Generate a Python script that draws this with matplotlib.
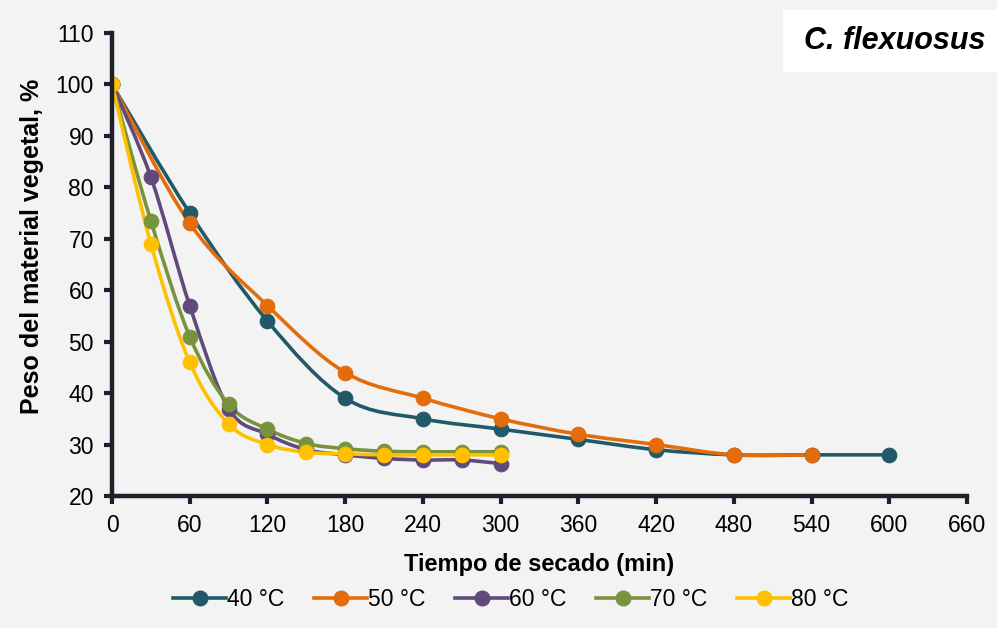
import numpy as np
import matplotlib.pyplot as plt
from matplotlib.path import Path
from matplotlib.patches import PathPatch, Rectangle
from matplotlib.lines import Line2D

plt.rcParams['font.family'] = ['Liberation Sans', 'DejaVu Sans']

# --- DATA ---
t_40 = [0, 60, 120, 180, 240, 300, 360, 420, 480, 540, 600]
w_40 = [100, 75, 54, 39, 35, 33, 31, 29, 28, 28, 28]
t_50 = [0, 60, 120, 180, 240, 300, 360, 420, 480, 540]
w_50 = [100, 73, 57, 44, 39, 35, 32, 30, 28, 28]
t_60 = [0, 30, 60, 90, 120, 150, 180, 210, 240, 270, 300]
w_60 = [100, 82, 57, 37, 32, 29, 28, 27.3, 27, 27, 26.3]
t_70 = [0, 30, 60, 90, 120, 150, 180, 210, 240, 270, 300]
w_70 = [100, 73.5, 51, 37.8, 33, 30.2, 29.2, 28.7, 28.6, 28.6, 28.6]
t_80 = [0, 30, 60, 90, 120, 150, 180, 210, 240, 270, 300]
w_80 = [100, 69, 46, 34, 30, 28.5, 28.2, 28, 28, 28, 28]

series = [
    ('40 °C', t_40, w_40, '#215968'),
    ('50 °C', t_50, w_50, '#e46c0a'),
    ('60 °C', t_60, w_60, '#604a7b'),
    ('70 °C', t_70, w_70, '#77933c'),
    ('80 °C', t_80, w_80, '#ffc000'),
]

x_ticks = list(range(0, 661, 60))
y_ticks = list(range(20, 111, 10))

BG = '#f3f3f3'
AX = '#1f1f2b'


def smooth_path(x, y):
    # Excel-like smoothed line: cubic Bezier segments through the points
    p = np.column_stack([x, y]).astype(float)
    n = len(p)
    verts = [p[0]]
    codes = [Path.MOVETO]
    for i in range(n - 1):
        p0 = p[i - 1] if i > 0 else p[i]
        p3 = p[i + 2] if i + 2 < n else p[i + 1]
        c1 = p[i] + (p[i + 1] - p0) / 6.0
        c2 = p[i + 1] - (p3 - p[i]) / 6.0
        verts += [c1, c2, p[i + 1]]
        codes += [Path.CURVE4] * 3
    return Path(verts, codes)


fig = plt.figure(figsize=(9.97, 6.28), dpi=100, facecolor=BG)
ax = fig.add_axes([112 / 997, 1 - 496 / 628, (967 - 112) / 997, (496 - 33) / 628])
ax.set_facecolor(BG)

handles = []
for label, t, w, c in series:
    ax.add_patch(PathPatch(smooth_path(t, w), facecolor='none', edgecolor=c,
                           lw=2.6, capstyle='round', joinstyle='round', zorder=2))
    ax.plot(t, w, ls='none', marker='o', ms=10.5, mfc=c, mec=c, mew=0.8, zorder=3)
    handles.append(Line2D([], [], color=c, lw=2.6, marker='o', ms=10.5, mfc=c, mec=c))

ax.set_xlim(0, 660)
ax.set_ylim(20, 110)
ax.set_xticks(x_ticks)
ax.set_yticks(y_ticks)
ax.tick_params(labelsize=16.5, colors='black', length=6, width=3, color=AX, pad=7)

for s in ['top', 'right']:
    ax.spines[s].set_visible(False)
for s in ['left', 'bottom']:
    ax.spines[s].set_color(AX)
    ax.spines[s].set_linewidth(3.2)
ax.spines['left'].set_zorder(4)
ax.spines['bottom'].set_zorder(4)

ax.set_xlabel('Tiempo de secado (min)', fontsize=17, fontweight='bold')
ax.xaxis.set_label_coords(0.5, -(565 - 496) / 463)
ax.set_ylabel('Peso del material vegetal, %', fontsize=18, fontweight='bold')
ax.yaxis.set_label_coords(-(112 - 32) / 855, (496 - 246) / 463)
ax.xaxis.label.set_va('center')
ax.yaxis.label.set_va('center')

fig.legend(handles=handles, labels=[s[0] for s in series],
           loc='center', bbox_to_anchor=(511 / 997, 1 - 600 / 628), ncol=5, frameon=False,
           fontsize=16.5, handlelength=2.3, handletextpad=0.05, columnspacing=1.3)

fig.patches.append(Rectangle((783 / 997, 1 - 72 / 628), 214 / 997, 62 / 628,
                             transform=fig.transFigure, facecolor='white',
                             edgecolor='none', zorder=0))
fig.text(895 / 997, 1 - 41 / 628, 'C. flexuosus', fontsize=22, fontweight='bold',
         fontstyle='italic', ha='center', va='center')

fig.savefig('out.png', dpi=100, facecolor=BG)
